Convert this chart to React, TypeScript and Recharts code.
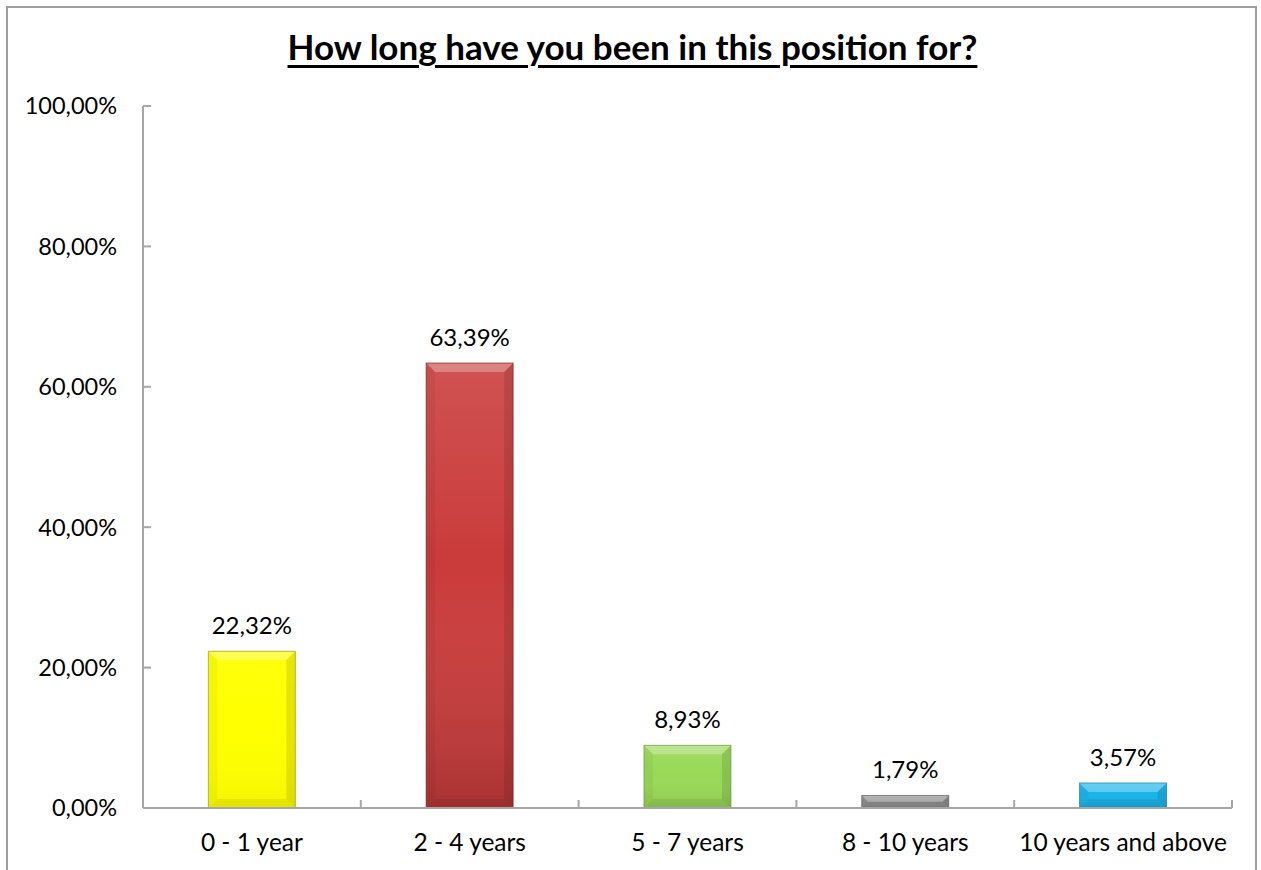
import React from 'react';
import { BarChart, Bar, XAxis, YAxis, Cell, LabelList } from 'recharts';

const categories = ['0 - 1 year', '2 - 4 years', '5 - 7 years', '8 - 10 years', '10 years and above'];
const values = [22.32, 63.39, 8.93, 1.79, 3.57];
const yTicks = [0, 20, 40, 60, 80, 100];
const xTicks = [0, 0.5, 1, 1.5, 2, 2.5, 3, 3.5, 4, 4.5, 5];
const palette = ['#FFFF00', '#CA3B3B', '#98D856', '#8C8C8C', '#18B4EA'];
const edgeColors = ['#8A8A00', '#5E1A1A', '#5E8A2E', '#505050', '#0E6E90'];
const shadeTop = [0.05, 0.12, 0.1, 0.1, 0.1];
const shadeBottom = [0.04, 0.16, 0.08, 0.08, 0.08];

const data = categories.map((c, i) => ({ name: c, pos: i + 0.5, value: values[i], idx: i }));

const FONT = 'Lato, "Open Sans", sans-serif';
const AXIS = '#a6a6a6';
const fmt = (v: number) => v.toFixed(2).replace('.', ',') + '%';

const BevelBar = (props: any) => {
  const { x, y, width, height, payload } = props;
  if (width <= 0 || height <= 0) return null;
  const i = payload.idx;
  const base = palette[i];
  const edge = edgeColors[i];
  const b = Math.min(9, height / 2, width / 2);
  const x2 = x + width;
  const y2 = y + height;
  const gid = `gv${i}`;
  return (
    <g>
      <defs>
        <linearGradient id={gid} x1="0" y1="0" x2="0" y2="1">
          <stop offset="0" stopColor="#ffffff" stopOpacity={shadeTop[i]} />
          <stop offset="0.45" stopColor="#ffffff" stopOpacity={0} />
          <stop offset="1" stopColor="#000000" stopOpacity={shadeBottom[i]} />
        </linearGradient>
      </defs>
      <rect x={x} y={y} width={width} height={height} fill={base} />
      <rect x={x} y={y} width={width} height={height} fill={`url(#${gid})`} />
      <polygon points={`${x},${y} ${x2},${y} ${x2 - b},${y + b} ${x + b},${y + b}`} fill="#ffffff" fillOpacity={0.28} />
      <polygon points={`${x},${y} ${x + b},${y + b} ${x + b},${y2 - b} ${x},${y2}`} fill="#000000" fillOpacity={0.04} />
      <polygon points={`${x2},${y} ${x2},${y2} ${x2 - b},${y2 - b} ${x2 - b},${y + b}`} fill="#000000" fillOpacity={0.1} />
      <polygon points={`${x},${y2} ${x + b},${y2 - b} ${x2 - b},${y2 - b} ${x2},${y2}`} fill="#000000" fillOpacity={0.07} />
      <rect x={x} y={y} width={width} height={height} fill="none" stroke={edge} strokeWidth={1} strokeOpacity={0.6} />
    </g>
  );
};

const XTick = (props: any) => {
  const { x, y, payload } = props;
  const v = Number(payload.value);
  if (Number.isInteger(v)) {
    return <line x1={x} x2={x} y1={y} y2={y - 8} stroke={AXIS} strokeWidth={2} />;
  }
  return (
    <text x={x} y={y + 43} textAnchor="middle" fill="#000" fontSize={24.5} fontFamily={FONT}>
      {categories[Math.floor(v)]}
    </text>
  );
};

export default function App() {
  return (
    <div style={{ position: 'absolute', left: 0, top: 0, width: 1261, height: 870, overflow: 'hidden', background: '#fff' }}>
      <div
        style={{
          position: 'absolute',
          left: 6,
          top: 6,
          width: 1251,
          height: 900,
          border: '2px solid #9f9f9f',
          boxSizing: 'border-box',
        }}
      />
      <div
        style={{
          position: 'absolute',
          left: 0,
          top: 26,
          width: 1265,
          textAlign: 'center',
          fontFamily: FONT,
          fontWeight: 700,
          fontSize: 35,
          lineHeight: '40px',
          textDecoration: 'underline',
          textUnderlineOffset: 5,
          textDecorationThickness: 3,
          color: '#000',
        }}
      >
        How long have you been in this position for?
      </div>
      <div style={{ position: 'absolute', left: 0, top: 0 }}>
        <BarChart
          width={1261}
          height={870}
          data={data}
          margin={{ top: 106, right: 29, bottom: 0, left: 0 }}
          barCategoryGap="30%"
        >
          <XAxis
            dataKey="pos"
            type="number"
            domain={[0, 5]}
            ticks={xTicks}
            interval={0}
            height={62}
            tickSize={0}
            tickMargin={0}
            tickLine={false}
            tick={XTick}
            axisLine={{ stroke: AXIS, strokeWidth: 2 }}
            allowDataOverflow
          />
          <YAxis
            width={143}
            domain={[0, 100]}
            ticks={yTicks}
            tickFormatter={fmt}
            tickSize={-8}
            tickMargin={34}
            axisLine={{ stroke: AXIS, strokeWidth: 2 }}
            tickLine={{ stroke: AXIS, strokeWidth: 2 }}
            tick={{ fill: '#000', fontSize: 23.5, fontFamily: FONT }}
            allowDataOverflow
          />
          <Bar dataKey="value" shape={BevelBar} isAnimationActive={false}>
            {data.map((d, i) => (
              <Cell key={d.name} fill={palette[i]} />
            ))}
            <LabelList
              dataKey="value"
              position="top"
              offset={17}
              formatter={(v: any) => fmt(Number(v))}
              style={{ fill: '#000', fontSize: 24, fontFamily: FONT }}
            />
          </Bar>
        </BarChart>
      </div>
    </div>
  );
}
